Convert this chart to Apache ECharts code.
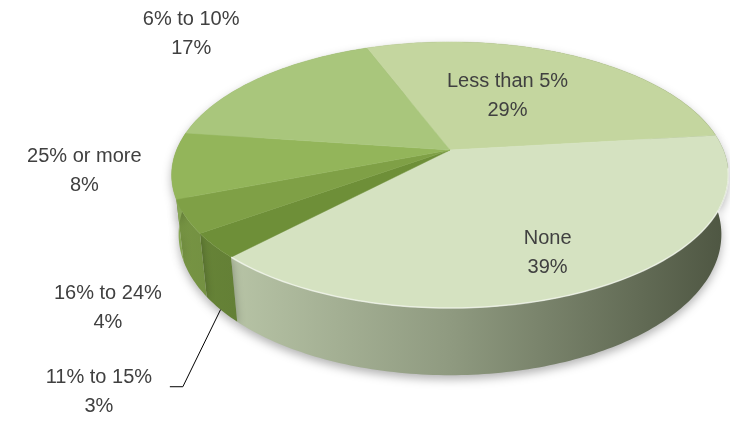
<!DOCTYPE html>
<html>
<head>
<meta charset="utf-8">
<script src="https://cdn.jsdelivr.net/npm/echarts@6/dist/echarts.min.js"></script>
<style>
  html, body { margin: 0; padding: 0; background: #ffffff; }
  #chart { width: 730px; height: 424px; }
</style>
</head>
<body>
<div id="chart"></div>
<script>
// Slices in drawing order, clockwise from the start angle
const categories = ['Less than 5%', 'None', '11% to 15%', '16% to 24%', '25% or more', '6% to 10%'];
const shares = [29, 39, 3, 4, 8, 17];
const sliceColors = ['#c4d69f', '#d5e2c1', '#6e8f38', '#7fa046', '#93b55a', '#a9c67c'];

// Perspective view of the disc
const VIEW = {
  cx: 450, cy: 150,      // screen position of the disc centre
  focal: 1285,           // projection scale
  dist: 4.7,             // camera distance in disc radii
  tilt: 28 * Math.PI / 180,
  depth: 0.249,          // disc thickness in radii
  startAngle: 111        // degrees, counter-clockwise from the right
};

// Label placement: radius factor along the slice's mid angle plus a pixel nudge
const LABEL_LAYOUT = [
  { r: 0.6, dx: -20, dy: 6 },
  { r: 0.72, dx: -2, dy: 9 },
  { r: 1.3, dx: -31, dy: 112, leader: true },
  { r: 1.3, dx: 12, dy: 69 },
  { r: 1.35, dx: 12, dy: 0 },
  { r: 1.3, dx: -17, dy: -26 }
];

function project(phiDeg, r, h) {
  const a = phiDeg * Math.PI / 180;
  const X = r * Math.cos(a), Z = r * Math.sin(a);
  const s = Math.sin(VIEW.tilt), c = Math.cos(VIEW.tilt);
  const yc = h * c + Z * s;
  const d = VIEW.dist + Z * c - h * s;
  return [VIEW.cx + VIEW.focal * X / d, VIEW.cy - VIEW.focal * yc / d];
}

function arcPoints(a0, a1, h) {
  const n = Math.max(2, Math.ceil(Math.abs(a0 - a1)));
  const pts = [];
  for (let i = 0; i <= n; i++) {
    pts.push(project(a0 + (a1 - a0) * i / n, 1, h));
  }
  return pts;
}

function hexToRgb(hex) {
  const v = parseInt(hex.slice(1), 16);
  return [(v >> 16) & 255, (v >> 8) & 255, v & 255];
}
function mix(hex, darkHex, t) {
  const a = hexToRgb(hex), b = hexToRgb(darkHex);
  const m = a.map((v, i) => Math.round(v * (1 - t) + b[i] * t));
  return 'rgb(' + m.join(',') + ')';
}

const total = shares.reduce((s, v) => s + v, 0);
const sliceAngles = [];
(function () {
  let acc = 0;
  shares.forEach(v => {
    const a0 = VIEW.startAngle - acc / total * 360;
    acc += v;
    const a1 = VIEW.startAngle - acc / total * 360;
    sliceAngles.push({ a0, a1, mid: (a0 + a1) / 2 });
  });
})();

const apex = project(0, 0, 0);
const xLeft = VIEW.cx - 280, xRight = VIEW.cx + 280;

function renderWall(params) {
  const i = params.dataIndex;
  const { a0, a1 } = sliceAngles[i];
  const top = arcPoints(a0, a1, 0);
  const bottom = arcPoints(a0, a1, -VIEW.depth).reverse();
  const base = sliceColors[i];
  const fill = new echarts.graphic.LinearGradient(xLeft, 0, xRight, 0, [
    { offset: 0, color: mix(base, '#3a4230', 0.12) },
    { offset: 0.5, color: mix(base, '#3a4230', 0.45) },
    { offset: 1, color: mix(base, '#3a4230', 0.88) }
  ], true);
  return {
    type: 'polygon',
    shape: { points: top.concat(bottom) },
    style: {
      fill: fill,
      shadowBlur: 10,
      shadowColor: 'rgba(0,0,0,0.3)',
      shadowOffsetY: 4
    }
  };
}

function renderTop(params) {
  const i = params.dataIndex;
  const { a0, a1 } = sliceAngles[i];
  const pts = [apex].concat(arcPoints(a0, a1, 0));
  return {
    type: 'polygon',
    shape: { points: pts },
    style: { fill: sliceColors[i], stroke: sliceColors[i], lineWidth: 0.5 }
  };
}

function renderLabel(params) {
  const i = params.dataIndex;
  const lay = LABEL_LAYOUT[i];
  const p = project(sliceAngles[i].mid, lay.r, 0);
  const x = p[0] + lay.dx, y = p[1] + lay.dy;
  const pct = Math.round(shares[i] / total * 100);
  const children = [{
    type: 'text',
    x: x, y: y,
    style: {
      text: categories[i] + '\n' + pct + '%',
      fill: '#404040',
      fontSize: 20,
      fontFamily: 'Liberation Sans, Arial, sans-serif',
      lineHeight: 29,
      align: 'center',
      verticalAlign: 'middle'
    }
  }];
  if (lay.leader) {
    const end = project(sliceAngles[i].mid, 1, -VIEW.depth);
    const start = [x + 71, y - 5];
    children.push({
      type: 'polyline',
      shape: { points: [start, [start[0] + 13, start[1]], end] },
      style: { stroke: '#000000', lineWidth: 1, fill: null }
    });
  }
  return { type: 'group', children: children };
}

// Light bevel along the front rim
function renderRim(params) {
  if (params.dataIndex !== 1) return null;
  const { a0, a1 } = sliceAngles[1];
  const from = Math.min(a0, -8), to = Math.max(a1, -172);
  return {
    type: 'polyline',
    shape: { points: arcPoints(from, to, 0) },
    style: { stroke: 'rgba(255,255,255,0.55)', lineWidth: 1.5, fill: null }
  };
}

const chart = echarts.init(document.getElementById('chart'), null, { renderer: 'canvas' });
chart.setOption({
  animation: false,
  backgroundColor: '#ffffff',
  series: [
    { type: 'custom', coordinateSystem: 'none', z: 1, data: shares, renderItem: renderWall, silent: true },
    { type: 'custom', coordinateSystem: 'none', z: 2, data: shares, renderItem: renderTop, silent: true },
    { type: 'custom', coordinateSystem: 'none', z: 3, data: shares, renderItem: renderRim, silent: true },
    { type: 'custom', coordinateSystem: 'none', z: 4, data: shares, renderItem: renderLabel, silent: true }
  ]
});
</script>
</body>
</html>
